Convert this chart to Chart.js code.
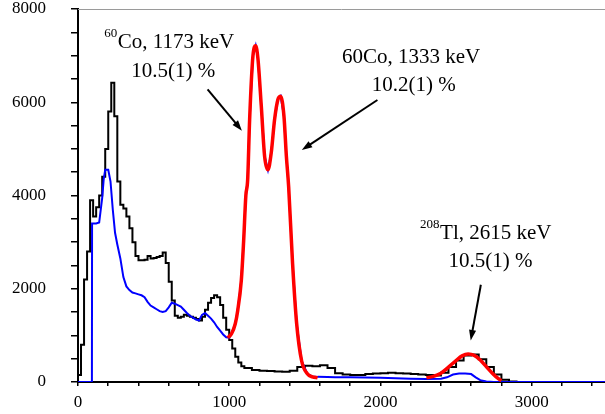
<!DOCTYPE html>
<html>
<head>
<meta charset="utf-8">
<script src="https://cdn.jsdelivr.net/npm/chart.js@4.4.1/dist/chart.umd.min.js"></script>
<style>
    html, body { margin: 0; padding: 0; background: #fff; }
    canvas { display: block; }
</style>
</head>
<body>
<canvas id="spectrumChart" width="605" height="414"></canvas>
<script>
// energies in keV, counts per channel
const blackEnergy = [0, 20, 40, 60, 80, 100, 120, 140, 160, 180, 200, 220, 240, 260, 280, 300, 320, 340, 360, 380,
    400, 420, 440, 460, 480, 500, 520, 540, 560, 580, 600, 620, 640, 660, 680, 700, 720, 740, 760, 780,
    800, 820, 840, 860, 880, 900, 920, 940, 960, 980, 1000, 1020, 1040, 1060, 1080, 1100,
    1150, 1200, 1250, 1300, 1350, 1400, 1450, 1500, 1550, 1600, 1650, 1700, 1750, 1800, 1850, 1900, 1950,
    2000, 2050, 2100, 2150, 2200, 2250, 2300, 2350, 2400, 2450, 2500, 2550, 2600, 2650, 2700, 2750, 2800,
    2850, 2900, 3485];
const blackCounts = [150, 800, 2200, 2800, 3900, 3550, 3750, 4000, 4400, 5000, 5800, 6420, 5700, 4300, 3800, 3720, 3550, 3300, 3000, 2700,
    2610, 2610, 2620, 2700, 2650, 2660, 2680, 2700, 2780, 2550, 2150, 1750, 1420, 1380, 1400, 1440, 1420, 1400, 1380, 1350,
    1320, 1400, 1550, 1700, 1800, 1860, 1820, 1650, 1380, 1120, 900, 720, 540, 420, 340, 300,
    260, 240, 235, 225, 220, 240, 320, 350, 340, 360, 300, 190, 160, 150, 150, 170, 180,
    190, 200, 190, 180, 170, 160, 150, 140, 200, 320, 460, 570, 590, 490, 320, 160, 50,
    10, 0, 0];

const blueEnergy = [0, 92, 93, 100, 120, 140, 160, 170, 180, 200, 215, 230, 245, 260, 280, 300, 320, 340, 360, 380,
    400, 420, 440, 460, 480, 500, 520, 540, 560, 580, 600, 620, 640, 660, 680, 700, 720, 740, 760, 780,
    800, 820, 840, 860, 880, 900, 920, 940, 960, 980, 1000, 1016, 1040, 1056, 1080, 1095, 1110, 1122, 1135, 1157, 1175,
    1190, 1212, 1234, 1256, 1278, 1300, 1322, 1340, 1362, 1378, 1393, 1419, 1446, 1479, 1518, 1550, 1584,
    1650, 1700, 1800, 1900, 2000, 2100, 2200, 2300, 2400, 2440, 2480, 2520, 2560, 2600, 2630, 2660, 2700, 2750, 3485];
const blueCounts = [0, 0, 3400, 3400, 3400, 3420, 3950, 4350, 4550, 4550, 4300, 3700, 3200, 2950, 2650, 2250, 2050, 1970, 1920, 1900,
    1880, 1860, 1820, 1720, 1640, 1600, 1560, 1520, 1500, 1520, 1600, 1700, 1680, 1650, 1620, 1550, 1480, 1420, 1380, 1340,
    1320, 1440, 1480, 1420, 1360, 1280, 1180, 1100, 1020, 960, 950, 1040, 1250, 1530, 2180, 3000, 4000, 4340, 5630, 7000, 7210,
    6930, 5920, 4840, 4550, 4920, 5630, 6060, 6130, 5700, 4840, 4190, 2540, 1250, 450, 170, 120, 110,
    105, 100, 100, 95, 90, 80, 70, 65, 70, 100, 160, 180, 180, 170, 100, 40, 10, 0, 0];

// fitted curves
const coFitEnergy = [990, 1016, 1040, 1056, 1080, 1095, 1110, 1122, 1135, 1157, 1175, 1190, 1212, 1234, 1256,
    1278, 1300, 1322, 1340, 1362, 1378, 1393, 1419, 1446, 1479, 1518, 1550, 1584];
const coFitCounts = [950, 1040, 1250, 1530, 2180, 3000, 4000, 4340, 5630, 7000, 7210, 6930, 5920, 4840, 4550,
    4920, 5630, 6060, 6130, 5700, 4840, 4190, 2540, 1250, 450, 170, 110, 90];

const tlFitEnergy = [2304, 2350, 2400, 2450, 2500, 2540, 2580, 2620, 2660, 2700, 2740, 2780, 2800];
const tlFitCounts = [90, 120, 190, 320, 460, 560, 600, 570, 470, 330, 190, 70, 30];

const xTickLabels = [0, 1000, 2000, 3000];
const yTickLabels = [0, 2000, 4000, 6000, 8000];

const serif = '"Liberation Serif", "DejaVu Serif", serif';

// annotation anchors in data units (keV, counts)
const notes = [
    { x: 174, y: 7157, sup: '60', text: 'Co, 1173 keV' },
    { x: 352, y: 6548, sup: '', text: '10.5(1) %' },
    { x: 1745, y: 6835, sup: '', text: '60Co, 1333 keV' },
    { x: 1943, y: 6242, sup: '', text: '10.2(1) %' },
    { x: 2262, y: 3071, sup: '208', text: 'Tl, 2615 keV' },
    { x: 2450, y: 2477, sup: '', text: '10.5(1) %' },
];
const arrows = [
    { from: [857, 6278], to: [1084, 5391] },
    { from: [1980, 6049], to: [1480, 4978] },
    { from: [2664, 2085], to: [2597, 891] },
];

const toPoints = (xs, ys) => xs.map((x, i) => ({ x: x, y: ys[i] }));

const annotate = {
    id: 'annotate',
    afterDraw(chart) {
        const { ctx, chartArea, scales } = chart;
        const px = v => scales.x.getPixelForValue(v);
        const py = v => scales.y.getPixelForValue(v);

        // thin grey frame line on top
        ctx.save();
        ctx.strokeStyle = '#9a9a9a';
        ctx.lineWidth = 1;
        ctx.beginPath();
        ctx.moveTo(chartArea.left, chartArea.top + 0.5);
        ctx.lineTo(chartArea.right, chartArea.top + 0.5);
        ctx.stroke();

        ctx.fillStyle = '#000';
        ctx.textBaseline = 'alphabetic';
        ctx.textAlign = 'left';
        notes.forEach(n => {
            let x = px(n.x);
            const y = py(n.y);
            if (n.sup) {
                ctx.font = '13px ' + serif;
                ctx.fillText(n.sup, x, y - 11);
                x += ctx.measureText(n.sup).width + 0.5;
            }
            ctx.font = '21px ' + serif;
            ctx.fillText(n.text, x, y);
        });

        ctx.strokeStyle = '#000';
        ctx.lineWidth = 2;
        arrows.forEach(a => {
            const x1 = px(a.from[0]), y1 = py(a.from[1]);
            const x2 = px(a.to[0]), y2 = py(a.to[1]);
            const ang = Math.atan2(y2 - y1, x2 - x1);
            const head = 11;
            ctx.beginPath();
            ctx.moveTo(x1, y1);
            ctx.lineTo(x2 - Math.cos(ang) * head * 0.8, y2 - Math.sin(ang) * head * 0.8);
            ctx.stroke();
            ctx.beginPath();
            ctx.moveTo(x2, y2);
            ctx.lineTo(x2 - head * Math.cos(ang - 0.33), y2 - head * Math.sin(ang - 0.33));
            ctx.lineTo(x2 - head * Math.cos(ang + 0.33), y2 - head * Math.sin(ang + 0.33));
            ctx.closePath();
            ctx.fill();
        });
        ctx.restore();
    }
};

const ctx = document.getElementById('spectrumChart').getContext('2d');

new Chart(ctx, {
    type: 'line',
    data: {
        datasets: [
            {
                data: toPoints(coFitEnergy, coFitCounts),
                borderColor: '#ff0000',
                borderWidth: 3.5,
                cubicInterpolationMode: 'monotone',
                pointRadius: 0,
                fill: false,
            },
            {
                data: toPoints(tlFitEnergy, tlFitCounts),
                borderColor: '#ff0000',
                borderWidth: 3.5,
                cubicInterpolationMode: 'monotone',
                pointRadius: 0,
                fill: false,
            },
            {
                data: toPoints(blueEnergy, blueCounts),
                borderColor: '#0000ff',
                borderWidth: 2,
                tension: 0,
                pointRadius: 0,
                fill: false,
            },
            {
                data: toPoints(blackEnergy, blackCounts),
                borderColor: '#000000',
                borderWidth: 2,
                stepped: true,
                pointRadius: 0,
                fill: false,
            },
        ]
    },
    options: {
        responsive: false,
        animation: false,
        layout: { padding: { top: 9, right: 0, bottom: 0, left: 0 } },
        plugins: {
            legend: { display: false },
            tooltip: { enabled: false },
        },
        scales: {
            x: {
                type: 'linear',
                min: 0,
                max: 3485,
                afterFit: s => {
                    s.height = 32;
                    s.paddingLeft = 0;
                    s.paddingRight = 0;
                },
                border: { color: '#000', width: 2 },
                grid: { drawOnChartArea: false, tickLength: 4, color: '#000', lineWidth: 1.5 },
                ticks: {
                    stepSize: 200,
                    includeBounds: false,
                    autoSkip: false,
                    maxRotation: 0,
                    padding: 6,
                    color: '#000',
                    font: { family: serif, size: 17 },
                    callback: v => xTickLabels.includes(v) ? String(v) : '',
                },
            },
            y: {
                min: 0,
                max: 8000,
                afterFit: s => {
                    s.width = 78;
                    s.paddingTop = 0;
                    s.paddingBottom = 0;
                },
                border: { color: '#000', width: 2 },
                grid: { drawOnChartArea: false, tickLength: 7, color: '#000', lineWidth: 1.5 },
                ticks: {
                    stepSize: 500,
                    autoSkip: false,
                    padding: 25,
                    color: '#000',
                    font: { family: serif, size: 17 },
                    callback: v => yTickLabels.includes(v) ? String(v) : '',
                },
            },
        },
    },
    plugins: [annotate],
});
</script>
</body>
</html>
